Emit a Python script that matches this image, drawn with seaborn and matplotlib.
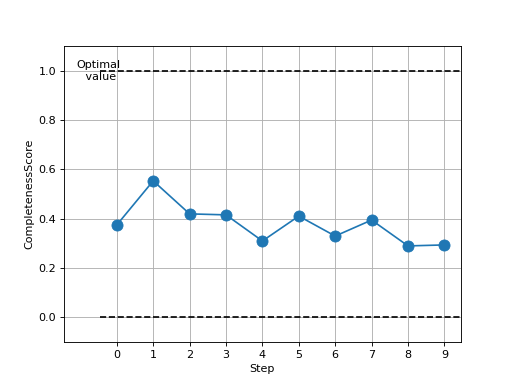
import numpy as np
import pandas as pd
import seaborn as sb
import matplotlib
matplotlib.use("Agg")
import matplotlib.pyplot as plt

# completeness score per step
steps = [0, 1, 2, 3, 4, 5, 6, 7, 8, 9]
scores = [0.374, 0.553, 0.419, 0.415, 0.309, 0.410, 0.329, 0.394, 0.289, 0.293]
optimal = 1.0
worst = 0.0

df = pd.DataFrame({"Step": steps, "CompletenessScore": scores})

fig, ax = plt.subplots(figsize=(6.4, 4.8), dpi=80)
sb.lineplot(data=df, x="Step", y="CompletenessScore", marker="o", markersize=10,
            markeredgecolor="#1f77b4", color="#1f77b4", ax=ax)

# reference lines
ax.hlines([optimal, worst], -0.45, 9.45, colors="black", linestyles="--")
ax.text(-0.5, optimal, "Optimal\n value", ha="center", va="center")

ax.set_xlim(-1.45, 9.45)
ax.set_ylim(-0.1, 1.1)
ax.set_xticks(steps)
ax.grid(True)
plt.savefig("out.png")
